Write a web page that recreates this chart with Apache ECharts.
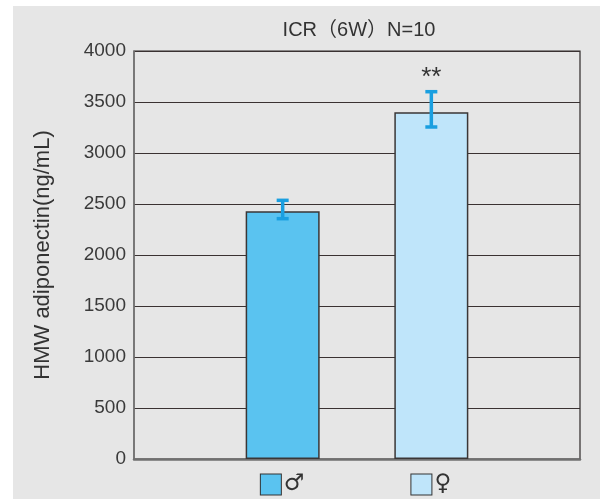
<!DOCTYPE html>
<html>
<head>
<meta charset="utf-8">
<script src="https://cdn.jsdelivr.net/npm/echarts@6/dist/echarts.min.js"></script>
<style>
html,body{margin:0;padding:0;background:#ffffff;}
#chart{width:600px;height:499px;}
</style>
</head>
<body>
<div id="chart"></div>
<script>
// ---- data ----
const categories = ['', '♂', '♀', ''];
const means = [null, 2430, 3400, null];
const errUpper = [null, 106, 201, null];
const errLower = [null, 74, 145, null];
const significance = ['', '', '**', ''];
const yTicks = [0, 500, 1000, 1500, 2000, 2500, 3000, 3500, 4000];
const titleText = 'ICR（6W）N=10';
const yAxisName = 'HMW adiponectin(ng/mL)';

// ---- styles ----
const barColors = ['#5ac3f0', '#5ac3f0', '#bfe5fa', '#bfe5fa'];
const errColor = '#1a9fe0';
const fontFam = '"Liberation Sans", "Noto Sans CJK JP", sans-serif';

const chart = echarts.init(document.getElementById('chart'));

const barData = means.map((v, i) => v == null ? '-' : {
  value: v,
  itemStyle: { color: barColors[i], borderColor: '#3a3636', borderWidth: 1.5 }
});
const errData = [];
means.forEach((v, i) => {
  if (v != null) errData.push([i, v, v + errUpper[i], v - errLower[i], significance[i]]);
});

const rich = {
  sym: { fontSize: 23, color: '#333', fontFamily: '"DejaVu Sans", sans-serif', padding: [0, 0, 0, 3] }
};
categories.forEach((c, i) => {
  rich['sq' + i] = { width: 20, height: 20, backgroundColor: barColors[i], borderColor: '#333', borderWidth: 1 };
});

chart.setOption({
  animation: false,
  backgroundColor: '#ffffff',
  graphic: [{
    type: 'rect', z: -10, silent: true,
    shape: { x: 13, y: 6, width: 587, height: 493 },
    style: { fill: '#e6e6e6' }
  }],
  title: {
    text: titleText, left: 354, textAlign: 'center', top: 15,
    textStyle: { fontSize: 20, fontWeight: 'normal', color: '#333', fontFamily: fontFam }
  },
  grid: {
    left: 134, right: 20, top: 51, bottom: 40,
    show: true, borderColor: '#2e2828', borderWidth: 1.2, backgroundColor: 'transparent'
  },
  xAxis: {
    type: 'category', data: categories, boundaryGap: false,
    axisLine: { show: true, lineStyle: { color: '#707070', width: 2.5 } },
    axisTick: { show: false },
    splitLine: { show: false },
    axisLabel: {
      margin: 14, interval: 0,
      formatter: function (v, i) { return v ? '{sq' + i + '|}{sym|' + v + '}' : ''; },
      rich: rich
    }
  },
  yAxis: {
    type: 'value', min: yTicks[0], max: yTicks[yTicks.length - 1], interval: 500,
    name: yAxisName, nameLocation: 'middle', nameGap: 80, nameRotate: 90,
    nameTextStyle: { fontSize: 22, color: '#333', fontFamily: fontFam },
    axisLine: { show: true, lineStyle: { color: '#7a7a7a', width: 1.5 } },
    axisTick: { show: false },
    axisLabel: { fontSize: 19, color: '#3a3a3a', margin: 8, fontFamily: fontFam,
                 formatter: function (v) { return String(v); } },
    splitLine: { show: true, lineStyle: { color: '#3a3232', width: 1.2 } }
  },
  series: [{
    type: 'bar', data: barData, barWidth: 74, z: 2
  }, {
    type: 'custom', z: 5,
    data: errData,
    encode: { x: 0, y: [1, 2, 3] },
    renderItem: function (params, api) {
      const x = api.value(0);
      const hi = api.coord([x, api.value(2)]);
      const lo = api.coord([x, api.value(3)]);
      const half = 6;
      const style = { stroke: errColor, lineWidth: 3.5 };
      const children = [
        { type: 'line', shape: { x1: hi[0], y1: hi[1], x2: lo[0], y2: lo[1] }, style: style },
        { type: 'line', shape: { x1: hi[0] - half, y1: hi[1], x2: hi[0] + half, y2: hi[1] }, style: style },
        { type: 'line', shape: { x1: lo[0] - half, y1: lo[1], x2: lo[0] + half, y2: lo[1] }, style: style }
      ];
      const sig = significance[x];
      if (sig) {
        children.push({
          type: 'text',
          style: { text: sig, x: hi[0], y: hi[1] - 14, align: 'center', verticalAlign: 'middle',
                   fontSize: 26, fill: '#333', fontFamily: fontFam }
        });
      }
      return { type: 'group', children: children };
    }
  }]
});
</script>
</body>
</html>
